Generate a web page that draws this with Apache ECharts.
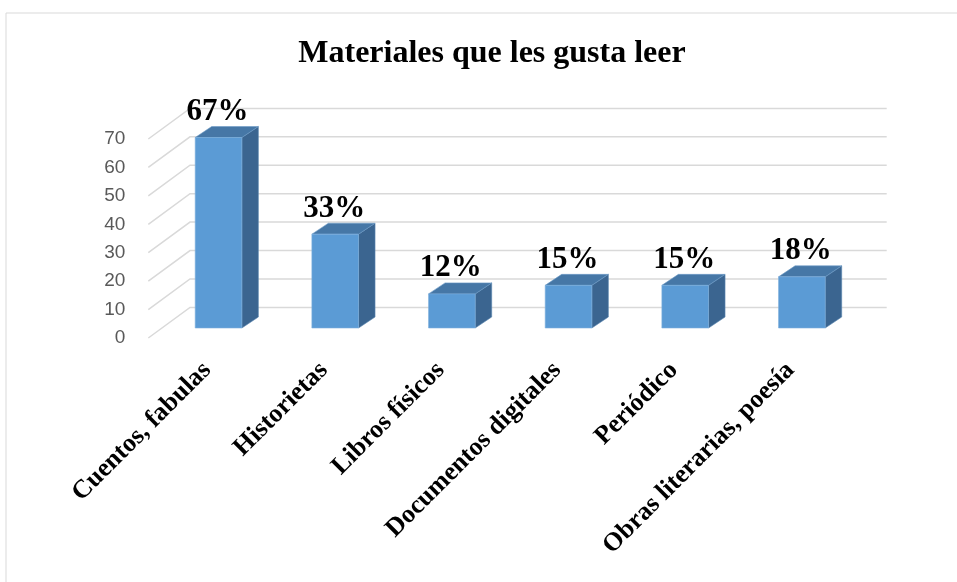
<!DOCTYPE html>
<html>
<head>
<meta charset="utf-8">
<script src="https://cdn.jsdelivr.net/npm/echarts@6/dist/echarts.min.js"></script>
<style>
  html, body { margin: 0; padding: 0; background: #fff; }
  #chart { width: 957px; height: 582px; }
</style>
</head>
<body>
<div id="chart"></div>
<script>
  // datos del grafico
  var categories = ['Cuentos, fabulas', 'Historietas', 'Libros físicos', 'Documentos digitales', 'Periódico', 'Obras literarias, poesía'];
  var values = [67, 33, 12, 15, 15, 18];
  var yTicks = [0, 10, 20, 30, 40, 50, 60, 70];

  var serif = '"Liberation Serif", "Times New Roman", serif';
  var depthX = 16.5, depthY = -11;   // profundidad de las barras
  var wallX = 41.7, wallY = -30.6;   // profundidad de la pared

  var chart = echarts.init(document.getElementById('chart'));

  chart.setOption({
    animation: false,
    title: {
      text: 'Materiales que les gusta leer',
      left: 487,
      top: 33,
      textAlign: 'center',
      textStyle: { fontFamily: serif, fontWeight: 'bold', fontSize: 32, color: '#000' }
    },
    graphic: [{
      type: 'rect',
      shape: { x: 6, y: 13, width: 960, height: 580 },
      style: { fill: null, stroke: '#d9d9d9', lineWidth: 1 }
    }],
    grid: [
      { left: 160.2, width: 700, top: 129, bottom: 254 },
      { left: 148.3, right: 70.3, top: 139, bottom: 244 }
    ],
    xAxis: [{
      type: 'category',
      gridIndex: 0,
      data: categories,
      axisLine: { show: false },
      axisTick: { show: false },
      axisLabel: {
        rotate: 45,
        margin: 27,
        padding: [0, 16, 0, 0],
        interval: 0,
        color: '#000',
        fontFamily: serif,
        fontWeight: 'bold',
        fontSize: 26
      }
    }, {
      type: 'value',
      gridIndex: 1,
      min: 0,
      max: 1,
      show: false
    }],
    yAxis: [{
      type: 'value',
      gridIndex: 0,
      min: 0,
      max: 70,
      interval: 10,
      show: false
    }, {
      type: 'value',
      gridIndex: 1,
      min: 0,
      max: 70,
      interval: 10,
      axisLine: { show: false },
      axisTick: { show: false },
      splitLine: { show: false },
      axisLabel: {
        margin: 23,
        color: '#595959',
        fontFamily: '"Liberation Sans", Arial, sans-serif',
        fontSize: 19
      }
    }],
    series: [{
      // lineas de la cuadricula (suelo y pared)
      type: 'custom',
      xAxisIndex: 1,
      yAxisIndex: 1,
      z: 1,
      silent: true,
      data: yTicks.map(function (v) { return [0, v]; }),
      renderItem: function (params, api) {
        var a = api.coord([0, api.value(1)]);
        var b = api.coord([1, api.value(1)]);
        return {
          type: 'polyline',
          shape: { points: [[a[0], a[1]], [a[0] + wallX, a[1] + wallY], [b[0], a[1] + wallY]] },
          style: { stroke: '#d9d9d9', lineWidth: 1.5, fill: null }
        };
      }
    }, {
      // barras 3D
      type: 'custom',
      xAxisIndex: 0,
      yAxisIndex: 0,
      z: 2,
      clip: false,
      data: values,
      renderItem: function (params, api) {
        var base = api.coord([api.value(0), 0]);
        var top = api.coord([api.value(0), api.value(1)]);
        var w = api.size([1, 0])[0] * 0.4;
        var x0 = base[0] - w / 2, x1 = base[0] + w / 2;
        var y0 = base[1], y1 = top[1];
        return {
          type: 'group',
          children: [{
            type: 'polygon',
            shape: { points: [[x1, y0], [x1 + depthX, y0 + depthY], [x1 + depthX, y1 + depthY], [x1, y1]] },
            style: { fill: '#3b6590', stroke: '#5a86b0', lineWidth: 0.6 }
          }, {
            type: 'polygon',
            shape: { points: [[x0, y1], [x1, y1], [x1 + depthX, y1 + depthY], [x0 + depthX, y1 + depthY]] },
            style: { fill: '#4677a6', stroke: '#6b9ac6', lineWidth: 0.6 }
          }, {
            type: 'rect',
            shape: { x: x0, y: y1, width: w, height: y0 - y1 },
            style: { fill: '#5b9bd5', stroke: '#7fb0de', lineWidth: 0.6 }
          }, {
            type: 'text',
            x: base[0] - 1,
            y: y1 + depthY + 1,
            style: {
              text: api.value(1) + '%',
              fill: '#000',
              font: 'bold 31px ' + serif,
              align: 'center',
              verticalAlign: 'bottom'
            }
          }]
        };
      },
      encode: { x: 0, y: 1 }
    }]
  });
</script>
</body>
</html>
